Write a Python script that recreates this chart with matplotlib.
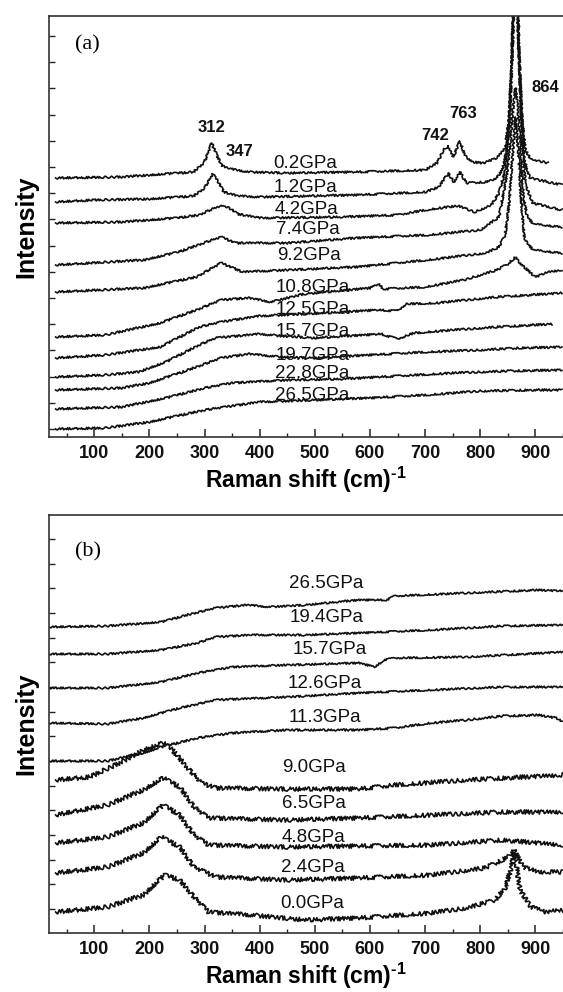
import matplotlib
matplotlib.use("Agg")
import matplotlib.pyplot as plt
import numpy as np

plt.rcParams['font.family'] = ['Liberation Sans', 'DejaVu Sans']
plt.rcParams['mathtext.fontset'] = 'custom'
plt.rcParams['mathtext.rm'] = 'Liberation Sans:bold'
plt.rcParams['mathtext.it'] = 'Liberation Sans:bold'
plt.rcParams['mathtext.bf'] = 'Liberation Sans:bold'

# ---------------- Panel (a) data (Raman shift cm-1, intensity a.u.) ----------------
A_LABELS = ['0.2GPa', '1.2GPa', '4.2GPa', '7.4GPa', '9.2GPa', '10.8GPa',
            '12.5GPa', '15.7GPa', '19.7GPa', '22.8GPa', '26.5GPa']
A_LABEL_X = [483, 483, 485, 487, 490, 496, 496, 496, 496, 496, 496]
A_LABEL_Y = [274, 250, 227, 207, 182, 150, 127, 105, 82, 63, 42]

A1_X = [30, 150, 280, 300, 313, 322, 332, 347, 380, 450, 575, 700, 722, 733, 742, 751, 763, 772, 785, 805, 830, 845, 852, 857, 860, 864, 868, 871, 876, 882, 890, 905, 923]
A1_Y = [259, 260, 265, 275, 294, 282, 271, 268, 265, 264, 265, 267, 274, 287, 291, 280, 296, 282, 275, 274, 279, 289, 317, 377, 437, 787, 437, 377, 317, 287, 279, 276, 274]
A2_X = [30, 100, 200, 280, 300, 315, 325, 335, 360, 400, 575, 700, 725, 742, 752, 763, 775, 810, 830, 840, 848, 854, 858, 861, 864, 867, 870, 874, 880, 890, 948]
A2_Y = [235, 237, 238, 241, 249, 263, 255, 245, 241, 240, 242, 245, 250, 264, 255, 265, 254, 255, 259, 267, 287, 327, 387, 437, 737, 437, 387, 327, 277, 259, 252]
A3_X = [30, 150, 250, 290, 310, 328, 345, 360, 400, 550, 650, 700, 740, 760, 790, 820, 834, 845, 852, 857, 861, 864, 867, 871, 876, 882, 895, 948]
A3_Y = [214, 215, 219, 222, 227, 231, 229, 223, 219, 220, 222, 227, 230, 231, 225, 232, 244, 267, 307, 367, 427, 637, 427, 367, 297, 252, 234, 227]
A4_X = [30, 190, 253, 298, 330, 356, 450, 575, 704, 800, 834, 848, 855, 860, 864, 868, 873, 878, 884, 895, 948]
A4_Y = [172, 177, 185, 194, 200, 194, 194, 199, 202, 207, 220, 262, 297, 332, 349, 332, 287, 242, 223, 213, 210]
A5_X = [30, 190, 285, 330, 369, 450, 575, 704, 810, 834, 845, 852, 858, 864, 869, 874, 880, 895, 948]
A5_Y = [145, 149, 160, 174, 165, 167, 170, 177, 184, 190, 202, 232, 277, 320, 287, 237, 199, 187, 184]
A6_X = [30, 120, 220, 285, 330, 380, 420, 480, 600, 615, 625, 700, 770, 830, 850, 864, 875, 900, 923, 948]
A6_Y = [100, 102, 114, 127, 137, 139, 135, 143, 149, 153, 148, 150, 157, 167, 173, 180, 172, 160, 165, 167]
A7_X = [30, 120, 220, 290, 330, 400, 520, 613, 650, 665, 720, 830, 948]
A7_Y = [79, 82, 90, 110, 115, 121, 124, 127, 126, 133, 134, 140, 144]
A8_X = [30, 120, 180, 230, 290, 320, 400, 440, 500, 560, 620, 650, 680, 750, 830, 930]
A8_Y = [60, 62, 65, 75, 92, 99, 103, 101, 99, 101, 103, 98, 104, 107, 110, 113]
A9_X = [30, 150, 200, 260, 330, 380, 440, 500, 600, 700, 800, 870, 948]
A9_Y = [47, 49, 54, 65, 79, 83, 80, 79, 82, 85, 87, 89, 90]
A10_X = [30, 150, 230, 300, 350, 450, 550, 650, 750, 850, 948]
A10_Y = [28, 30, 39, 49, 54, 57, 58, 61, 64, 66, 67]
A11_X = [30, 120, 200, 300, 400, 500, 600, 700, 800, 900, 948]
A11_Y = [8, 9, 15, 27, 35, 37, 39, 42, 46, 47, 47]

A_PEAK_TEXT = ['312', '347', '742', '763', '864']
A_PEAK_X = [313, 364, 719, 768, 918]
A_PEAK_Y = [310, 286, 302, 324, 350]

# ---------------- Panel (b) data ----------------
B_LABELS = ['26.5GPa', '19.4GPa', '15.7GPa', '12.6GPa', '11.3GPa',
            '9.0GPa', '6.5GPa', '4.8GPa', '2.4GPa', '0.0GPa']
B_LABEL_X = [521, 521, 527, 518, 518, 498, 498, 498, 496, 496]
B_LABEL_Y = [350, 315, 284, 250, 216, 165, 130, 96, 65, 30]

B1_X = [18, 124, 222, 268, 320, 378, 417, 482, 580, 630, 645, 775, 905, 949]
B1_Y = [306, 307, 311, 318, 325, 328, 326, 328, 333, 333, 337, 340, 343, 342]
B2_X = [18, 124, 222, 287, 320, 385, 482, 580, 710, 840, 949]
B2_Y = [279, 279, 283, 290, 296, 298, 298, 300, 303, 307, 308]
B3_X = [18, 124, 222, 287, 352, 450, 580, 610, 625, 645, 775, 949]
B3_Y = [245, 245, 251, 260, 266, 268, 270, 266, 273, 275, 276, 281]
B4_X = [18, 124, 189, 255, 320, 450, 580, 710, 840, 949]
B4_Y = [210, 209, 215, 225, 233, 236, 240, 243, 246, 246]
B5_X = [18, 124, 189, 222, 287, 352, 450, 580, 645, 710, 775, 840, 905, 938, 949]
B5_Y = [172, 172, 180, 186, 195, 200, 203, 203, 205, 210, 213, 217, 218, 215, 211]
B6_X = [30, 92, 157, 189, 225, 242, 268, 294, 320, 450, 580, 645, 775, 949]
B6_Y = [153, 156, 173, 183, 190, 183, 166, 150, 145, 144, 144, 148, 153, 158]
B7_X = [30, 124, 189, 225, 255, 281, 307, 450, 580, 710, 840, 949]
B7_Y = [118, 128, 143, 155, 146, 126, 115, 113, 115, 118, 121, 121]
B8_X = [30, 124, 189, 225, 255, 281, 307, 450, 580, 710, 840, 949]
B8_Y = [90, 96, 110, 128, 118, 98, 88, 86, 87, 88, 93, 88]
B9_X = [30, 124, 189, 222, 255, 281, 320, 450, 580, 710, 808, 840, 853, 861, 869, 879, 905, 949]
B9_Y = [60, 66, 80, 96, 86, 66, 56, 53, 55, 58, 65, 73, 78, 83, 75, 66, 61, 61]
B10_X = [30, 124, 189, 228, 255, 281, 307, 385, 482, 580, 710, 775, 827, 846, 855, 861, 866, 872, 892, 918, 949]
B10_Y = [21, 26, 38, 58, 53, 36, 21, 18, 13, 15, 20, 25, 33, 46, 63, 81, 65, 43, 26, 21, 23]

X_TICKS = [100, 200, 300, 400, 500, 600, 700, 800, 900]
X_MINOR = [50, 150, 250, 350, 450, 550, 650, 750, 850, 950]

A_TRACES = [(A1_X, A1_Y), (A2_X, A2_Y), (A3_X, A3_Y), (A4_X, A4_Y), (A5_X, A5_Y),
            (A6_X, A6_Y), (A7_X, A7_Y), (A8_X, A8_Y), (A9_X, A9_Y), (A10_X, A10_Y),
            (A11_X, A11_Y)]
B_TRACES = [(B1_X, B1_Y), (B2_X, B2_Y), (B3_X, B3_Y), (B4_X, B4_Y), (B5_X, B5_Y),
            (B6_X, B6_Y), (B7_X, B7_Y), (B8_X, B8_Y), (B9_X, B9_Y), (B10_X, B10_Y)]
B_NOISE = [0.9, 0.9, 0.9, 0.9, 1.0, 2.1, 2.1, 2.1, 2.1, 2.1]

fig = plt.figure(figsize=(5.63, 9.92), dpi=100)
ax_a = fig.add_axes([49 / 563, 1 - 437 / 992, 514 / 563, 421 / 992])
ax_b = fig.add_axes([49 / 563, 1 - 933 / 992, 514 / 563, 418 / 992])

LINE_COLOR = '#111111'


def style_axes(ax, ylim, yticks):
    ax.set_xlim(18, 949)
    ax.set_ylim(*ylim)
    ax.set_xticks(X_TICKS, labels=[str(t) for t in X_TICKS], fontweight='bold', fontsize=13)
    ax.set_xticks(X_MINOR, minor=True)
    ax.set_yticks(yticks)
    ax.tick_params(axis='x', which='major', direction='in', length=6, width=1.1,
                   pad=6, colors='#222222', labelcolor='#111111')
    ax.tick_params(axis='x', which='minor', direction='in', length=3, width=1.0,
                   colors='#222222')
    ax.tick_params(axis='y', which='major', direction='in', length=4.5, width=1.0,
                   labelleft=False, colors='#222222')
    ax.spines['right'].set_visible(False)
    for s in ('left', 'bottom', 'top'):
        ax.spines[s].set_linewidth(1.2)
        ax.spines[s].set_color('#333333')
    ax.set_xlabel('Raman shift (cm)$^{\u2010\\mathbf{1}}$', fontsize=16.5,
                  fontweight='bold', labelpad=2)
    ax.set_ylabel('Intensity', fontsize=18, fontweight='bold', labelpad=8)


style_axes(ax_a, (0, 421), [8 + 26.2 * k for k in range(16)])
style_axes(ax_b, (0, 418), [24 + 24.67 * k for k in range(16)])

for xs, ys in A_TRACES:
    ln, = ax_a.plot(xs, ys, color=LINE_COLOR, lw=1.2)
    ln.set_sketch_params(scale=1.0, length=2.0, randomness=4)

for (xs, ys), nz in zip(B_TRACES, B_NOISE):
    ln, = ax_b.plot(xs, ys, color=LINE_COLOR, lw=1.2)
    ln.set_sketch_params(scale=nz, length=2.0, randomness=4)

for lab, x, y in zip(A_LABELS, A_LABEL_X, A_LABEL_Y):
    ax_a.text(x, y, lab, fontsize=13.5, ha='center', va='center', color='#111111')
for t, x, y in zip(A_PEAK_TEXT, A_PEAK_X, A_PEAK_Y):
    ax_a.text(x, y, t, fontsize=12, fontweight='bold', ha='center', va='center', color='#111111')
for lab, x, y in zip(B_LABELS, B_LABEL_X, B_LABEL_Y):
    ax_b.text(x, y, lab, fontsize=13.5, ha='center', va='center', color='#111111')

ax_a.text(88, 392, '(a)', fontsize=16, family='Liberation Serif', ha='center', va='center')
ax_b.text(88, 381, '(b)', fontsize=16, family='Liberation Serif', ha='center', va='center')

fig.savefig('out.png', dpi=100)
